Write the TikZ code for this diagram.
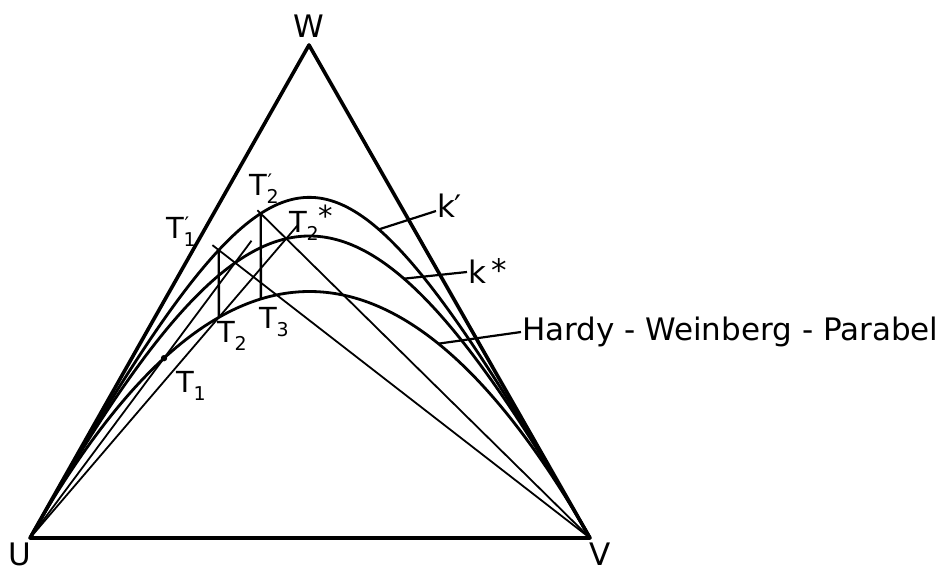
\documentclass[tikz,border=0pt]{standalone}
\usepackage{fontspec}
\setmainfont{DejaVu Sans}
\usetikzlibrary{calc}

% small raised / lowered indices for the T labels
\newcommand{\tsub}[1]{\raisebox{-8pt}{\fontsize{19}{21}\selectfont #1}}
\newcommand{\tpsub}[1]{\raisebox{-8pt}{\fontsize{20}{15}\selectfont
    \lineskiplimit=-50pt\vbox{\hbox{\hspace{1pt}′}\hbox{\fontsize{19}{15}\selectfont #1}}}}
\newcommand{\tstar}[1]{\raisebox{#1}{*}}

\begin{document}
\begin{tikzpicture}[
    x=1pt, y=-1pt,
    side/.style={line width=3.6pt, line join=round},
    curve/.style={line width=2.8pt},
    guide/.style={line width=1.8pt},
    plumb/.style={line width=2.4pt},
    leader/.style={line width=2.2pt},
    vlabel/.style={font=\fontsize{31}{34}\selectfont, anchor=base},
    tlabel/.style={font=\fontsize{29}{32}\selectfont, anchor=base west},
    every node/.style={inner sep=0pt, outer sep=0pt}
]
\useasboundingbox (0,0) rectangle (948,571);

% --- corners (pure numbers, unit pt) ---
\def\xU{30}  \def\yU{538}
\def\xV{590} \def\yV{538}
\def\xW{309} \def\yW{45}

% --- curve constants c = sqrt(k), W^2 = k U V ---
\def\cH{2}                        % Hardy-Weinberg (k = 4)
\pgfmathsetmacro{\cS}{sqrt(10)}   % k*
\pgfmathsetmacro{\cP}{sqrt(20)}   % k'

% curve through U and V with constant #1
\newcommand{\kcurve}[1]{plot[domain=0:1, samples=120, variable=\s]
  ({(\xU*\s^2 + \xV*(1-\s)^2 + \xW*#1*\s*(1-\s))/(\s^2 + (1-\s)^2 + #1*\s*(1-\s))},
   {(\yU*\s^2 + \yV*(1-\s)^2 + \yW*#1*\s*(1-\s))/(\s^2 + (1-\s)^2 + #1*\s*(1-\s))})}

\coordinate (U) at (\xU,\yU);
\coordinate (V) at (\xV,\yV);
\coordinate (W) at (\xW,\yW);

% ---- step 1: T1 -> T1* -> T1' ----
\def\pA{0.76}
\pgfmathsetmacro{\uA}{\pA*\pA}
\pgfmathsetmacro{\vA}{(1-\pA)*(1-\pA)}
\pgfmathsetmacro{\wA}{2*\pA*(1-\pA)}
\pgfmathsetmacro{\tAs}{\wA/(\vA*\cS)}
\pgfmathsetmacro{\tAp}{\tAs*\cP/\cS}
\pgfmathsetmacro{\uAs}{\tAs*\tAs}   \pgfmathsetmacro{\wAs}{\cS*\tAs}
\pgfmathsetmacro{\uAp}{\tAp*\tAp}   \pgfmathsetmacro{\wAp}{\cP*\tAp}
\coordinate (T1)  at (barycentric cs:U=\uA,V=\vA,W=\wA);
\coordinate (T1s) at (barycentric cs:U=\uAs,V=1,W=\wAs);
\coordinate (T1p) at (barycentric cs:U=\uAp,V=1,W=\wAp);

% ---- step 2: T2 -> T2* -> T2' ----
\pgfmathsetmacro{\pB}{(\uAp + 0.5*\wAp)/(\uAp + 1 + \wAp)}
\pgfmathsetmacro{\uB}{\pB*\pB}
\pgfmathsetmacro{\vB}{(1-\pB)*(1-\pB)}
\pgfmathsetmacro{\wB}{2*\pB*(1-\pB)}
\pgfmathsetmacro{\tBs}{\wB/(\vB*\cS)}
\pgfmathsetmacro{\tBp}{\tBs*\cP/\cS}
\pgfmathsetmacro{\uBs}{\tBs*\tBs}   \pgfmathsetmacro{\wBs}{\cS*\tBs}
\pgfmathsetmacro{\uBp}{\tBp*\tBp}   \pgfmathsetmacro{\wBp}{\cP*\tBp}
\coordinate (T2)  at (barycentric cs:U=\uB,V=\vB,W=\wB);
\coordinate (T2s) at (barycentric cs:U=\uBs,V=1,W=\wBs);
\coordinate (T2p) at (barycentric cs:U=\uBp,V=1,W=\wBp);

% ---- step 3: T3 ----
\pgfmathsetmacro{\pC}{(\uBp + 0.5*\wBp)/(\uBp + 1 + \wBp)}
\pgfmathsetmacro{\uC}{\pC*\pC}
\pgfmathsetmacro{\vC}{(1-\pC)*(1-\pC)}
\pgfmathsetmacro{\wC}{2*\pC*(1-\pC)}
\coordinate (T3) at (barycentric cs:U=\uC,V=\vC,W=\wC);

% ---- feet of the leaders on the curves ----
\coordinate (kpfoot) at (barycentric cs:U=0.2025,V=1,W=2.0125);
\coordinate (ksfoot) at (barycentric cs:U=0.1681,V=1,W=1.2965);
\coordinate (hwfoot) at (barycentric cs:U=0.0729,V=0.5329,W=0.3942);

% ---- triangle ----
\draw[side] (U) -- (V) -- (W) -- cycle;

% ---- curves ----
\draw[curve] \kcurve{\cH};
\draw[curve] \kcurve{\cS};
\draw[curve] \kcurve{\cP};

% ---- construction lines ----
\draw[guide] (U) -- ($(U)!1.08!(T1s)$);
\draw[guide] (U) -- ($(U)!1.046!(T2s)$);
\draw[guide] (V) -- ($(V)!1.017!(T1p)$);
\draw[guide] (V) -- ($(V)!1.01!(T2p)$);
\draw[plumb] (T2) -- (T1p);
\draw[plumb] (T3) -- (T2p);
\fill (T1) circle (3.2);

% ---- corner labels ----
\node[vlabel] (Wl) at (309,37) {W};
\node[vlabel] (Ul) at (20,565) {U};
\node[vlabel] (Vl) at (600,565) {V};

% ---- point labels ----
\node[tlabel] (T1pl) at (166,238) {T\tpsub{1}};
\node[tlabel] (T2pl) at (249,195) {T\tpsub{2}};
\node[tlabel] (T2sl) at (289,232) {T\tsub{2}\tstar{6pt}};
\node[tlabel] (T3l)  at (259,328) {T\tsub{3}};
\node[tlabel] (T2l)  at (217,342) {T\tsub{2}};
\node[tlabel] (T1l)  at (176,392) {T\tsub{1}};

% ---- curve labels ----
\node[tlabel, font=\fontsize{31}{34}\selectfont] (kpl) at (437,217) {k′};
\node[tlabel, font=\fontsize{31}{34}\selectfont] (ksl) at (468,283) {k\,\tstar{2pt}};
\node[tlabel, font=\fontsize{31}{34}\selectfont] (hwl) at (522,340)
    {Hardy - Weinberg - Parabel};

\draw[leader] (kpfoot) -- ($(kpl.base west)+(-1,-6)$);
\draw[leader] (ksfoot) -- ($(ksl.base west)+(-1,-11)$);
\draw[leader] (hwfoot) -- ($(hwl.base west)+(-1,-8)$);

\end{tikzpicture}
\end{document}
